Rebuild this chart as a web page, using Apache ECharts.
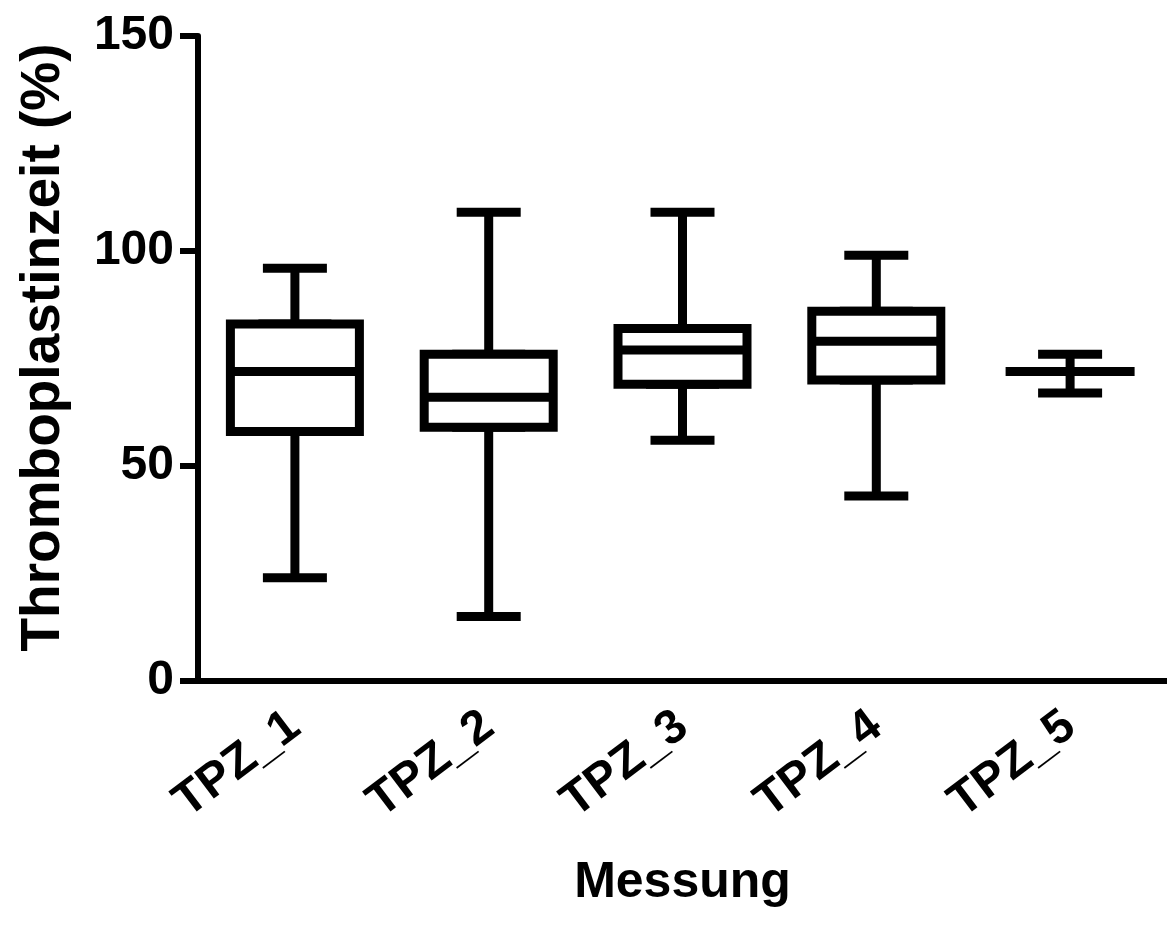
<!DOCTYPE html>
<html>
<head>
<meta charset="utf-8">
<script src="https://cdn.jsdelivr.net/npm/echarts@6/dist/echarts.min.js"></script>
<style>
html,body{margin:0;padding:0;background:#fff;}
#chart{width:1167px;height:929px;}
</style>
</head>
<body>
<div id="chart"></div>
<script>
const categories = ['TPZ_1', 'TPZ_2', 'TPZ_3', 'TPZ_4', 'TPZ_5'];
const minValues = [24, 15, 56, 43, 67];
const q1Values = [58, 59, 69, 70, 72];
const medianValues = [72, 66, 77, 79, 72];
const q3Values = [83, 76, 82, 86, 72];
const maxValues = [96, 109, 109, 99, 76];
const yTicks = [0, 50, 100, 150];
const xAxisTitle = 'Messung';
const yAxisTitle = 'Thromboplastinzeit (%)';

// whiskers (narrow caps) and boxes (wide) are drawn as two boxplot layers
const whiskerData = categories.map((c, i) => [minValues[i], q1Values[i], medianValues[i], q3Values[i], maxValues[i]]);
const boxData = categories.map((c, i) => [q1Values[i], q1Values[i], medianValues[i], q3Values[i], q3Values[i]]);
const FONT = '"Liberation Sans", Arial, sans-serif';
const STYLE = {color: '#ffffff', borderColor: '#000000', borderWidth: 9};

const chart = echarts.init(document.getElementById('chart'), null, {renderer: 'canvas'});
chart.setOption({
  animation: false,
  backgroundColor: '#ffffff',
  grid: {left: 198, right: 0, top: 36, bottom: 248, containLabel: false},
  xAxis: [{
    type: 'category',
    data: categories,
    name: xAxisTitle,
    nameLocation: 'middle',
    nameGap: 177,
    nameTextStyle: {fontFamily: FONT, fontWeight: 'bold', fontSize: 50, color: '#000'},
    axisLine: {lineStyle: {color: '#000', width: 6}},
    axisTick: {alignWithLabel: true, length: 19, lineStyle: {color: '#000', width: 6}},
    axisLabel: {rotate: 37, margin: 40, fontFamily: FONT, fontWeight: 'bold', fontSize: 48, color: '#000'},
    splitLine: {show: false}
  }, {
    type: 'category',
    data: categories,
    position: 'bottom',
    show: false
  }],
  yAxis: {
    type: 'value',
    min: yTicks[0],
    max: yTicks[yTicks.length - 1],
    interval: 50,
    name: yAxisTitle,
    nameLocation: 'middle',
    nameGap: 127,
    nameTextStyle: {fontFamily: FONT, fontWeight: 'bold', fontSize: 55, color: '#000', padding: [0, 0, 0, 22]},
    axisLine: {show: true, lineStyle: {color: '#000', width: 6}},
    axisTick: {show: true, length: 18, lineStyle: {color: '#000', width: 6}},
    axisLabel: {margin: 24, fontFamily: FONT, fontWeight: 'bold', fontSize: 48, color: '#000'},
    splitLine: {show: false}
  },
  series: [{
    type: 'boxplot',
    xAxisIndex: 0,
    data: whiskerData,
    boxWidth: [64, 64],
    itemStyle: STYLE,
    z: 2,
    emphasis: {disabled: true}
  }, {
    type: 'boxplot',
    xAxisIndex: 1,
    data: boxData,
    boxWidth: [129, 129],
    itemStyle: STYLE,
    z: 3,
    emphasis: {disabled: true}
  }]
});
</script>
</body>
</html>
